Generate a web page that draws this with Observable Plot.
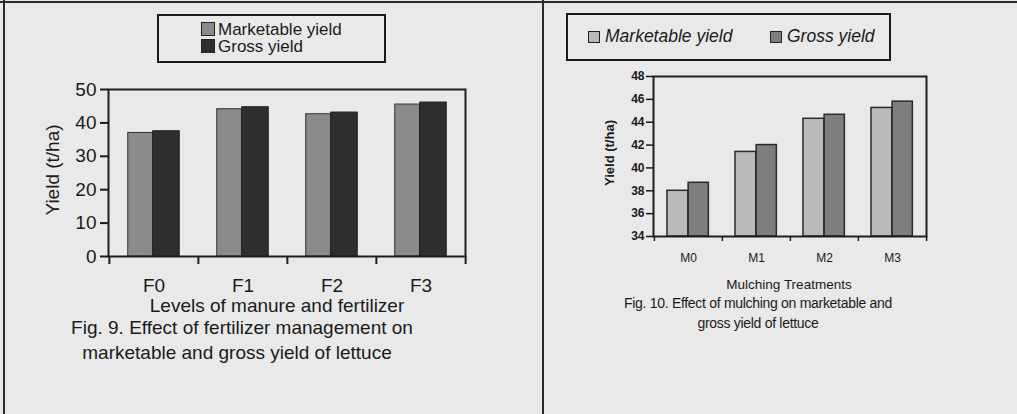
<!DOCTYPE html>
<html>
<head>
<meta charset="utf-8">
<script src="https://cdn.jsdelivr.net/npm/d3@7"></script>
<script src="https://cdn.jsdelivr.net/npm/@observablehq/plot@0.6"></script>
<style>
  html, body { margin: 0; padding: 0; background: #e9e9e9; }
  #page { position: relative; width: 1017px; height: 414px; overflow: hidden; background: #e9e9e9;
          font-family: "Liberation Sans", Arial, sans-serif; color: #1a1a1a; }
  .abs { position: absolute; white-space: nowrap; line-height: 1; }
  .ctr { transform: translate(-50%, -50%); }
  .vline { position: absolute; background: #2a2a2a; }
  .legend { position: absolute; border: 2px solid #1a1a1a; box-sizing: border-box; }
  .sw { position: absolute; border: 1px solid #222; box-sizing: border-box; }
  svg { position: absolute; overflow: visible; }
</style>
</head>
<body>
<div id="page"></div>
<script>
// ---------------- data ----------------
// Fig. 9 (fertilizer management)
const fertCats = ["F0", "F1", "F2", "F3"];
const fertMarketable = [37.0, 44.1, 42.6, 45.5];
const fertGross = [37.5, 44.7, 43.1, 46.1];
const fertTicks = [0, 10, 20, 30, 40, 50];

// Fig. 10 (mulching)
const mulchCats = ["M0", "M1", "M2", "M3"];
const mulchMarketable = [38.0, 41.4, 44.3, 45.25];
const mulchGross = [38.7, 42.0, 44.65, 45.8];
const mulchTicks = [34, 36, 38, 40, 42, 44, 46, 48];

const seriesNames = ["Marketable yield", "Gross yield"];
const leftColors = ["#8b8b8b", "#2e2e2e"];
const rightColors = ["#bababa", "#7e7e7e"];

const page = document.getElementById("page");
function addText(txt, x, y, css) {
  const d = document.createElement("div");
  d.className = "abs ctr";
  d.textContent = txt;
  d.style.left = x + "px"; d.style.top = y + "px";
  Object.assign(d.style, css || {});
  page.appendChild(d);
  return d;
}
function addLine(x, y, w, h) {
  const d = document.createElement("div");
  d.className = "vline";
  Object.assign(d.style, {left: x + "px", top: y + "px", width: w + "px", height: h + "px"});
  page.appendChild(d);
}

// page rules (scan border and column divider)
addLine(0, 1, 1017, 2);
addLine(3, 0, 2, 414);
addLine(542, 0, 2, 414);

// ---------------- Left chart ----------------
{
  const W = 490, H = 240, mL = 108, mR = 25, mT = 29, mB = 44;
  const bw = (W - mL - mR) / fertCats.length;
  const data = fertCats.map((c, i) => ({cat: c, m: fertMarketable[i], g: fertGross[i]}));
  const font = {fontFamily: "'Liberation Sans', Arial, sans-serif", fontSize: "19px", color: "#1a1a1a", background: "transparent", overflow: "visible"};
  const plot = Plot.plot({
    width: W, height: H, marginLeft: mL, marginRight: mR, marginTop: mT, marginBottom: mB,
    style: font,
    x: {type: "band", domain: fertCats, padding: 0, axis: null, label: null},
    y: {domain: [fertTicks[0], fertTicks[fertTicks.length - 1]], axis: null, label: null},
    marks: [
      Plot.barY(data, {x: "cat", y: "m", fill: leftColors[0], stroke: "#333", strokeWidth: 1,
        insetLeft: bw * 0.21, insetRight: bw * 0.51}),
      Plot.barY(data, {x: "cat", y: "g", fill: leftColors[1], stroke: "#222", strokeWidth: 1,
        insetLeft: bw * 0.49, insetRight: bw * 0.21}),
      Plot.frame({stroke: "#1e1e1e", strokeWidth: 2}),
      Plot.axisY(fertTicks, {label: null, tickSize: 8, tickPadding: 4, strokeWidth: 2, fontSize: 19, fill: "#1a1a1a"}),
      Plot.axisX({label: null, tickSize: 0, tickPadding: 22, fontSize: 19, fill: "#1a1a1a"}),
      Plot.ruleX(fertCats, {x: d => d, dx: -bw / 2, insetTop: H - mT - mB, insetBottom: -8, stroke: "#1e1e1e", strokeWidth: 2}),
      Plot.ruleX(fertCats.slice(-1), {x: d => d, dx: bw / 2, insetTop: H - mT - mB, insetBottom: -8, stroke: "#1e1e1e", strokeWidth: 2})
    ]
  });
  plot.style.left = "0px"; plot.style.top = "60px";
  page.appendChild(plot);

  // legend
  const lg = document.createElement("div");
  lg.className = "legend";
  Object.assign(lg.style, {left: "157px", top: "14px", width: "229px", height: "49px"});
  page.appendChild(lg);
  seriesNames.forEach((s, i) => {
    const sw = document.createElement("div");
    sw.className = "sw";
    Object.assign(sw.style, {left: "42px", top: (6 + i * 17) + "px", width: "14px", height: "14px", background: leftColors[i]});
    lg.appendChild(sw);
    const t = document.createElement("div");
    t.className = "abs";
    t.textContent = s;
    Object.assign(t.style, {left: "59px", top: (5 + i * 17) + "px", fontSize: "17px"});
    lg.appendChild(t);
  });

  addText("Yield (t/ha)", 52, 170, {fontSize: "19px", transform: "translate(-50%,-50%) rotate(-90deg)"});
  addText("Levels of manure and fertilizer", 277, 305, {fontSize: "19px"});
  addText("Fig. 9. Effect of fertilizer management on", 242, 327, {fontSize: "19px"});
  addText("marketable and gross yield of lettuce", 237, 352, {fontSize: "19px"});
}

// ---------------- Right chart ----------------
{
  const W = 400, H = 210, mL = 93, mR = 34, mT = 16, mB = 34;
  const bw = (W - mL - mR) / mulchCats.length;
  const data = mulchCats.map((c, i) => ({cat: c, m: mulchMarketable[i], g: mulchGross[i]}));
  const yMin = mulchTicks[0], yMax = mulchTicks[mulchTicks.length - 1];
  const plot = Plot.plot({
    width: W, height: H, marginLeft: mL, marginRight: mR, marginTop: mT, marginBottom: mB,
    style: {fontFamily: "'Liberation Sans', Arial, sans-serif", fontSize: "12px", fontWeight: "bold", color: "#1a1a1a", background: "transparent", overflow: "visible"},
    x: {type: "band", domain: mulchCats, padding: 0, axis: null, label: null},
    y: {domain: [yMin, yMax], axis: null, label: null},
    marks: [
      Plot.rectY(data, {x: "cat", y1: () => yMin, y2: "m", fill: rightColors[0], stroke: "#2a2a2a", strokeWidth: 1.5,
        insetLeft: bw * 0.19, insetRight: bw * 0.5}),
      Plot.rectY(data, {x: "cat", y1: () => yMin, y2: "g", fill: rightColors[1], stroke: "#2a2a2a", strokeWidth: 1.5,
        insetLeft: bw * 0.5, insetRight: bw * 0.2}),
      Plot.frame({stroke: "#1e1e1e", strokeWidth: 2}),
      Plot.axisY(mulchTicks, {label: null, tickSize: 7, tickPadding: 2, strokeWidth: 1.5, fontSize: 12, fill: "#1a1a1a"}),
      Plot.axisX({label: null, tickSize: 0, tickPadding: 17, fontSize: 12, fill: "#1a1a1a", fontWeight: "normal"}),
      Plot.ruleX(mulchCats, {x: d => d, dx: -bw / 2, insetTop: H - mT - mB, insetBottom: -5, stroke: "#1e1e1e", strokeWidth: 1.5}),
      Plot.ruleX(mulchCats.slice(-1), {x: d => d, dx: bw / 2, insetTop: H - mT - mB, insetBottom: -5, stroke: "#1e1e1e", strokeWidth: 1.5})
    ]
  });
  plot.style.left = "560px"; plot.style.top = "60px";
  page.appendChild(plot);

  const lg = document.createElement("div");
  lg.className = "legend";
  Object.assign(lg.style, {left: "566px", top: "13px", width: "325px", height: "48px"});
  page.appendChild(lg);
  const swX = [20, 202], txX = [37, 219];
  seriesNames.forEach((s, i) => {
    const sw = document.createElement("div");
    sw.className = "sw";
    Object.assign(sw.style, {left: swX[i] + "px", top: "16px", width: "12px", height: "12px", background: rightColors[i]});
    lg.appendChild(sw);
    const t = document.createElement("div");
    t.className = "abs";
    t.textContent = s;
    Object.assign(t.style, {left: txX[i] + "px", top: "13px", fontSize: "17.5px", fontStyle: "italic"});
    lg.appendChild(t);
  });

  addText("Yield (t/ha)", 609, 153, {fontSize: "13px", fontWeight: "bold", transform: "translate(-50%,-50%) rotate(-90deg)"});
  addText("Mulching Treatments", 789, 285, {fontSize: "13.5px"});
  addText("Fig. 10. Effect of mulching on marketable and", 758, 303, {fontSize: "14px", letterSpacing: "-0.3px"});
  addText("gross yield of lettuce", 758, 323, {fontSize: "14px", letterSpacing: "-0.3px"});
}
</script>
</body>
</html>
